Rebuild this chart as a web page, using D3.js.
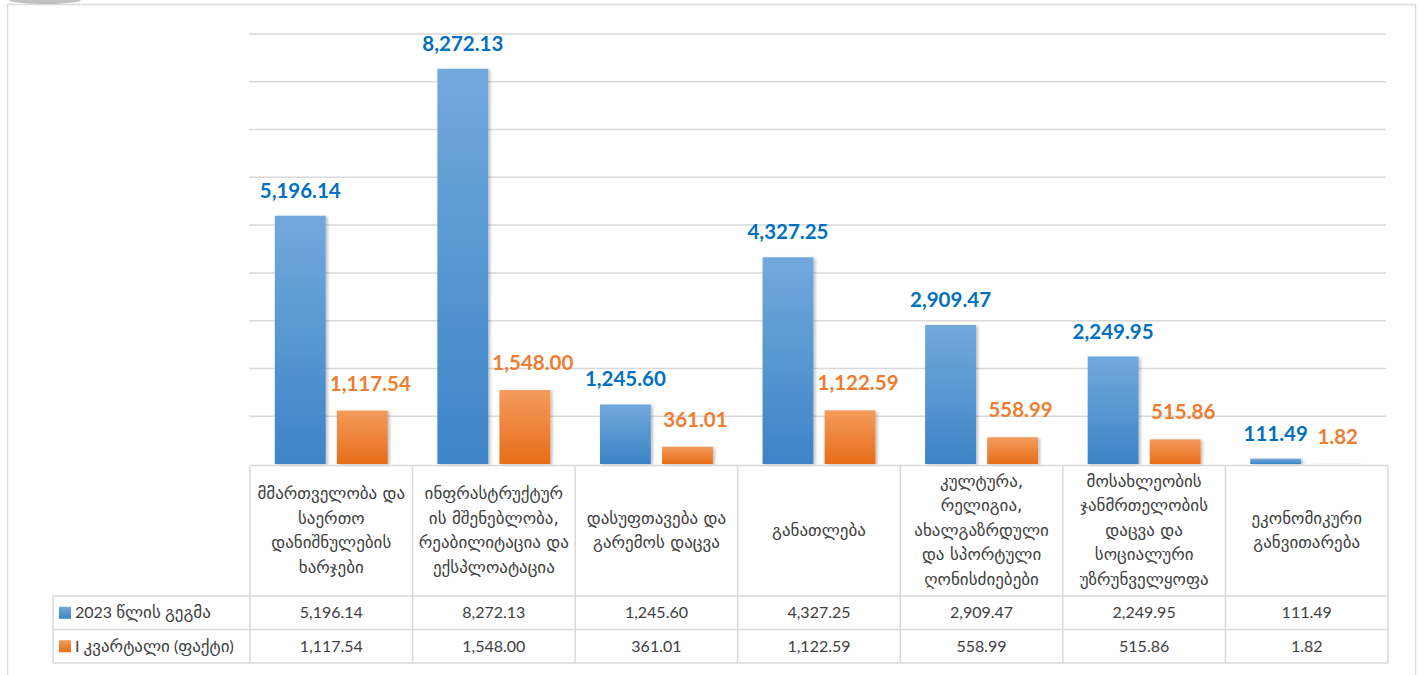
<!DOCTYPE html>
<html><head><meta charset="utf-8">
<script src="https://cdn.jsdelivr.net/npm/d3@7"></script>
<style>
body{margin:0;background:#fff;}
svg{display:block;}
</style></head>
<body><svg id="c" width="1418" height="675"></svg>
<script>
const categories = [
  "მმართველობა და\nსაერთო\nდანიშნულების\nხარჯები",
  "ინფრასტრუქტურ\nის მშენებლობა,\nრეაბილიტაცია და\nექსპლოატაცია",
  "დასუფთავება და\nგარემოს დაცვა",
  "განათლება",
  "კულტურა,\nრელიგია,\nახალგაზრდული\nდა სპორტული\nღონისძიებები",
  "მოსახლეობის\nჯანმრთელობის\nდაცვა და\nსოციალური\nუზრუნველყოფა",
  "ეკონომიკური\nგანვითარება"
];
const seriesNames = ["2023 წლის გეგმა", "I კვარტალი (ფაქტი)"];
const plan2023 = [5196.14, 8272.13, 1245.60, 4327.25, 2909.47, 2249.95, 111.49];
const q1Fact = [1117.54, 1548.00, 361.01, 1122.59, 558.99, 515.86, 1.82];
const yTicks = [0,1000,2000,3000,4000,5000,6000,7000,8000,9000];

const series = [plan2023, q1Fact];
const fmt = d3.format(",.2f");
const svg = d3.select("#c");
const numFont = "Lato, 'DejaVu Sans', sans-serif";
const geoFont = "'DejaVu Sans', sans-serif";
const labelColors = ["#0070C0", "#ED7D31"];
const grid = "#d9d9d9";

const defs = svg.append("defs");
const gradStops = [["#72a9dd","#3c84c6"],["#f49b5c","#e76d1a"]];
gradStops.forEach((g,i)=>{
  const lg = defs.append("linearGradient").attr("id","g"+i).attr("x1",0).attr("y1",0).attr("x2",0).attr("y2",1);
  lg.append("stop").attr("offset","0%").attr("stop-color",g[0]);
  lg.append("stop").attr("offset","100%").attr("stop-color",g[1]);
});
const f = defs.append("filter").attr("id","sh").attr("x","-20%").attr("y","-20%").attr("width","150%").attr("height","150%");
f.append("feDropShadow").attr("dx",2).attr("dy",1).attr("stdDeviation",1.5).attr("flood-color","#000").attr("flood-opacity",0.25);

// outer frame
svg.append("path").attr("d","M7.5,675 L7.5,4.5 L1415.5,4.5 L1415.5,675").attr("fill","none").attr("stroke","#dcdcdc").attr("stroke-width",1.5);
svg.append("ellipse").attr("cx",45).attr("cy",0).attr("rx",36).attr("ry",4).attr("fill","#9a9a9a").attr("opacity",0.6);

const x0 = 250, x1 = 1388;
const x = d3.scaleBand().domain(d3.range(categories.length)).range([x0,x1]).paddingInner(0).paddingOuter(0);
const xs = d3.scaleBand().domain([0,1]).range([0,x.bandwidth()]).paddingInner(0.18).paddingOuter(0.4);
const y = d3.scaleLinear().domain([0,9000]).range([464,34]);

// gridlines
svg.append("g").selectAll("line").data(yTicks.filter(d=>d>0)).join("line")
  .attr("x1",x0-1).attr("x2",x1-2).attr("y1",d=>y(d)).attr("y2",d=>y(d))
  .attr("stroke",grid).attr("stroke-width",1.5);

// bars + labels
series.forEach((vals,si)=>{
  svg.append("g").selectAll("rect").data(vals).join("rect")
    .attr("x",(d,i)=>x(i)+xs(si))
    .attr("width",xs.bandwidth())
    .attr("y",d=>y(d))
    .attr("height",d=>y(0)-y(d))
    .attr("fill","url(#g"+si+")")
    .attr("filter","url(#sh)");
  svg.append("g").selectAll("text").data(vals).join("text")
    .attr("x",(d,i)=>x(i)+xs(si)+xs.bandwidth()/2 + (si===1 && i<vals.length-1 ? 8 : 0))
    .attr("y",d=>y(d)-(si===1?20:18))
    .attr("text-anchor","middle")
    .attr("font-family",numFont).attr("font-weight","bold").attr("font-size",20.5)
    .attr("fill",labelColors[si])
    .text(d=>fmt(d));
});

// table
const rowTop = 465.5, rowCat = 596, rowS1 = 629.5, rowBot = 663;
const tg = svg.append("g").attr("stroke",grid).attr("stroke-width",1.5).attr("fill","none");
tg.append("line").attr("x1",x0).attr("x2",x1).attr("y1",rowTop).attr("y2",rowTop);
[rowCat,rowS1,rowBot].forEach(v=>tg.append("line").attr("x1",53).attr("x2",x1).attr("y1",v).attr("y2",v));
const vx = d3.range(categories.length+1).map(i=> i<categories.length? x(i): x1);
tg.selectAll(".v").data(vx).join("line").attr("x1",d=>d).attr("x2",d=>d).attr("y1",rowTop).attr("y2",rowBot);
tg.append("line").attr("x1",53).attr("x2",53).attr("y1",rowCat).attr("y2",rowBot);

// category text
const lh = 24.5, catMid = (rowTop+rowCat)/2;
categories.forEach((c,i)=>{
  const lines = c.split("\n");
  const t = svg.append("text").attr("text-anchor","middle")
    .attr("font-family",geoFont).attr("font-size",17).attr("fill","#404040");
  lines.forEach((l,j)=>{
    t.append("tspan").attr("x",x(i)+x.bandwidth()/2)
      .attr("y",catMid + (j-(lines.length-1)/2)*lh + 5).text(l);
  });
});

// values rows + legend cells
const rowMids = [(rowCat+rowS1)/2, (rowS1+rowBot)/2];
const geoRe = /([\u10A0-\u10FF]+)/;
series.forEach((vals,si)=>{
  svg.append("g").selectAll("text").data(vals).join("text")
    .attr("x",(d,i)=>x(i)+x.bandwidth()/2)
    .attr("y",rowMids[si]+5.5)
    .attr("text-anchor","middle")
    .attr("font-family",numFont).attr("font-size",16).attr("fill","#404040")
    .text(d=>fmt(d));
  svg.append("rect").attr("x",59).attr("y",rowMids[si]-6).attr("width",12).attr("height",12)
    .attr("fill","url(#g"+si+")");
  const lt = svg.append("text").attr("x",75).attr("y",rowMids[si]+5.5)
    .attr("font-family",numFont).attr("font-size",16).attr("fill","#404040");
  seriesNames[si].split(geoRe).filter(s=>s.length).forEach(part=>{
    const isGeo = geoRe.test(part);
    lt.append("tspan").attr("font-family",isGeo?geoFont:numFont)
      .attr("font-size",isGeo?17:16).text(part);
  });
});
</script></body></html>
